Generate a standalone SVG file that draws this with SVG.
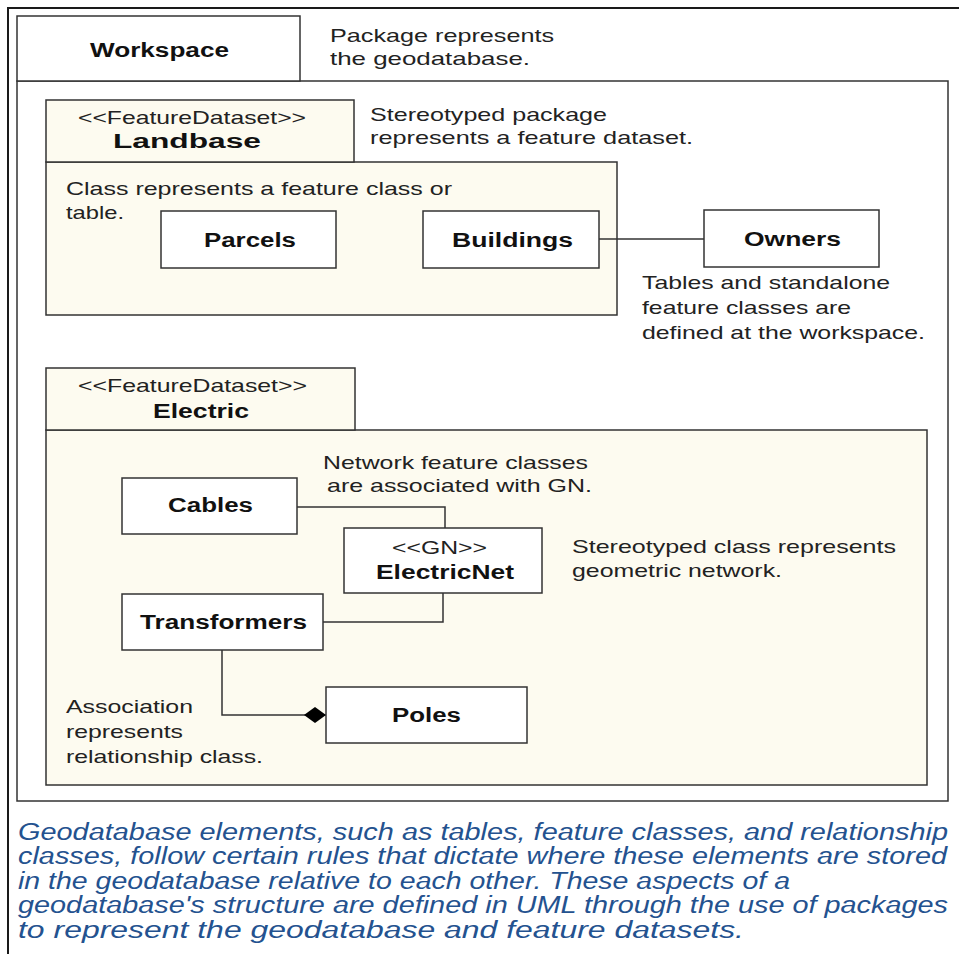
<svg xmlns="http://www.w3.org/2000/svg" width="959" height="954" viewBox="0 0 959 954">
<style>
.frame{fill:none;stroke:#1a1a1a;stroke-width:2}
.ws{fill:#ffffff;stroke:#333;stroke-width:1.5}
.pkg{fill:#fdfbf0;stroke:#333;stroke-width:1.5}
.cls{fill:#ffffff;stroke:#333;stroke-width:1.5}
.t{font-family:"Liberation Sans",Arial,sans-serif;font-size:18.5px;fill:#222}
.b{font-family:"Liberation Sans",Arial,sans-serif;font-size:19.5px;font-weight:bold;fill:#111}
.cap{font-family:"Liberation Sans Narrow","Liberation Sans",Arial,sans-serif;font-size:23px;font-style:italic;fill:#24528f}
.con{fill:none;stroke:#333;stroke-width:1.5}
</style>
<defs>
<marker id="diamond" viewBox="0 0 22 16" refX="22" refY="8" markerWidth="22" markerHeight="16" markerUnits="userSpaceOnUse" orient="auto">
<path d="M0,8 L11,0 L22,8 L11,16 Z" fill="#000"/>
</marker>
</defs>
<rect width="959" height="954" fill="#ffffff"/>
<rect class="frame" x="8" y="8" width="970" height="970"/>

<g id="workspace">
<rect class="ws" x="17" y="81" width="931" height="720"/>
<rect class="ws" x="17" y="16" width="283" height="65"/>
<text class="b" x="90" y="57" textLength="139" lengthAdjust="spacingAndGlyphs">Workspace</text>
</g>
<g id="note-workspace">
<text class="t" x="330" y="42" textLength="224" lengthAdjust="spacingAndGlyphs">Package represents</text>
<text class="t" x="330" y="65" textLength="200" lengthAdjust="spacingAndGlyphs">the geodatabase.</text>
</g>

<g id="landbase">
<rect class="pkg" x="46" y="162" width="571" height="153"/>
<rect class="pkg" x="46" y="100" width="308" height="62"/>
<text class="t" x="78" y="124" textLength="228" lengthAdjust="spacingAndGlyphs">&lt;&lt;FeatureDataset&gt;&gt;</text>
<text class="b" x="113" y="148" textLength="148" lengthAdjust="spacingAndGlyphs">Landbase</text>
</g>
<g id="note-landbase">
<text class="t" x="370" y="121" textLength="237" lengthAdjust="spacingAndGlyphs">Stereotyped package</text>
<text class="t" x="370" y="144" textLength="323" lengthAdjust="spacingAndGlyphs">represents a feature dataset.</text>
</g>
<g id="note-class">
<text class="t" x="66" y="195" textLength="386" lengthAdjust="spacingAndGlyphs">Class represents a feature class or</text>
<text class="t" x="66" y="219" textLength="58" lengthAdjust="spacingAndGlyphs">table.</text>
</g>

<g id="parcels">
<rect class="cls" x="161" y="211" width="175" height="57"/>
<text class="b" x="204" y="247" textLength="92" lengthAdjust="spacingAndGlyphs">Parcels</text>
</g>
<g id="buildings">
<rect class="cls" x="423" y="211" width="176" height="57"/>
<text class="b" x="452" y="247" textLength="121" lengthAdjust="spacingAndGlyphs">Buildings</text>
</g>
<g id="owners">
<rect class="cls" x="704" y="210" width="175" height="57"/>
<text class="b" x="744" y="246" textLength="97" lengthAdjust="spacingAndGlyphs">Owners</text>
</g>
<g id="note-owners">
<text class="t" x="642" y="289" textLength="248" lengthAdjust="spacingAndGlyphs">Tables and standalone</text>
<text class="t" x="642" y="314" textLength="209" lengthAdjust="spacingAndGlyphs">feature classes are</text>
<text class="t" x="642" y="339" textLength="283" lengthAdjust="spacingAndGlyphs">defined at the workspace.</text>
</g>

<g id="electric">
<rect class="pkg" x="46" y="430" width="881" height="355"/>
<rect class="pkg" x="46" y="368" width="309" height="62"/>
<text class="t" x="78" y="392" textLength="229" lengthAdjust="spacingAndGlyphs">&lt;&lt;FeatureDataset&gt;&gt;</text>
<text class="b" x="153" y="418" textLength="96" lengthAdjust="spacingAndGlyphs">Electric</text>
</g>
<g id="note-network">
<text class="t" x="323" y="469" textLength="265" lengthAdjust="spacingAndGlyphs">Network feature classes</text>
<text class="t" x="327" y="492" textLength="265" lengthAdjust="spacingAndGlyphs">are associated with GN.</text>
</g>
<g id="note-gn">
<text class="t" x="572" y="553" textLength="324" lengthAdjust="spacingAndGlyphs">Stereotyped class represents</text>
<text class="t" x="572" y="577" textLength="210" lengthAdjust="spacingAndGlyphs">geometric network.</text>
</g>
<g id="note-association">
<text class="t" x="66" y="713" textLength="127" lengthAdjust="spacingAndGlyphs">Association</text>
<text class="t" x="66" y="738" textLength="117" lengthAdjust="spacingAndGlyphs">represents</text>
<text class="t" x="66" y="763" textLength="197" lengthAdjust="spacingAndGlyphs">relationship class.</text>
</g>

<g id="connectors">
<path class="con" d="M599,239 H704"/>
<path class="con" d="M297,507 H445 V528"/>
<path class="con" d="M323,622 H443 V593"/>
<path class="con" d="M222,650 V715 H326" marker-end="url(#diamond)"/>
</g>

<g id="cables">
<rect class="cls" x="122" y="478" width="175" height="56"/>
<text class="b" x="168" y="512" textLength="85" lengthAdjust="spacingAndGlyphs">Cables</text>
</g>
<g id="electricnet">
<rect class="cls" x="344" y="528" width="198" height="65"/>
<text class="t" x="392" y="554" textLength="95" lengthAdjust="spacingAndGlyphs">&lt;&lt;GN&gt;&gt;</text>
<text class="b" x="376" y="579" textLength="138" lengthAdjust="spacingAndGlyphs">ElectricNet</text>
</g>
<g id="transformers">
<rect class="cls" x="122" y="594" width="201" height="56"/>
<text class="b" x="140" y="629" textLength="167" lengthAdjust="spacingAndGlyphs">Transformers</text>
</g>
<g id="poles">
<rect class="cls" x="326" y="687" width="201" height="56"/>
<text class="b" x="392" y="722" textLength="69" lengthAdjust="spacingAndGlyphs">Poles</text>
</g>

<g id="caption">
<text class="cap" x="18" y="840" textLength="930" lengthAdjust="spacingAndGlyphs">Geodatabase elements, such as tables, feature classes, and relationship</text>
<text class="cap" x="18" y="864" textLength="929" lengthAdjust="spacingAndGlyphs">classes, follow certain rules that dictate where these elements are stored</text>
<text class="cap" x="18" y="889" textLength="772" lengthAdjust="spacingAndGlyphs">in the geodatabase relative to each other. These aspects of a</text>
<text class="cap" x="18" y="913" textLength="930" lengthAdjust="spacingAndGlyphs">geodatabase's structure are defined in UML through the use of packages</text>
<text class="cap" x="18" y="938" textLength="726" lengthAdjust="spacingAndGlyphs">to represent the geodatabase and feature datasets.</text>
</g>
</svg>
